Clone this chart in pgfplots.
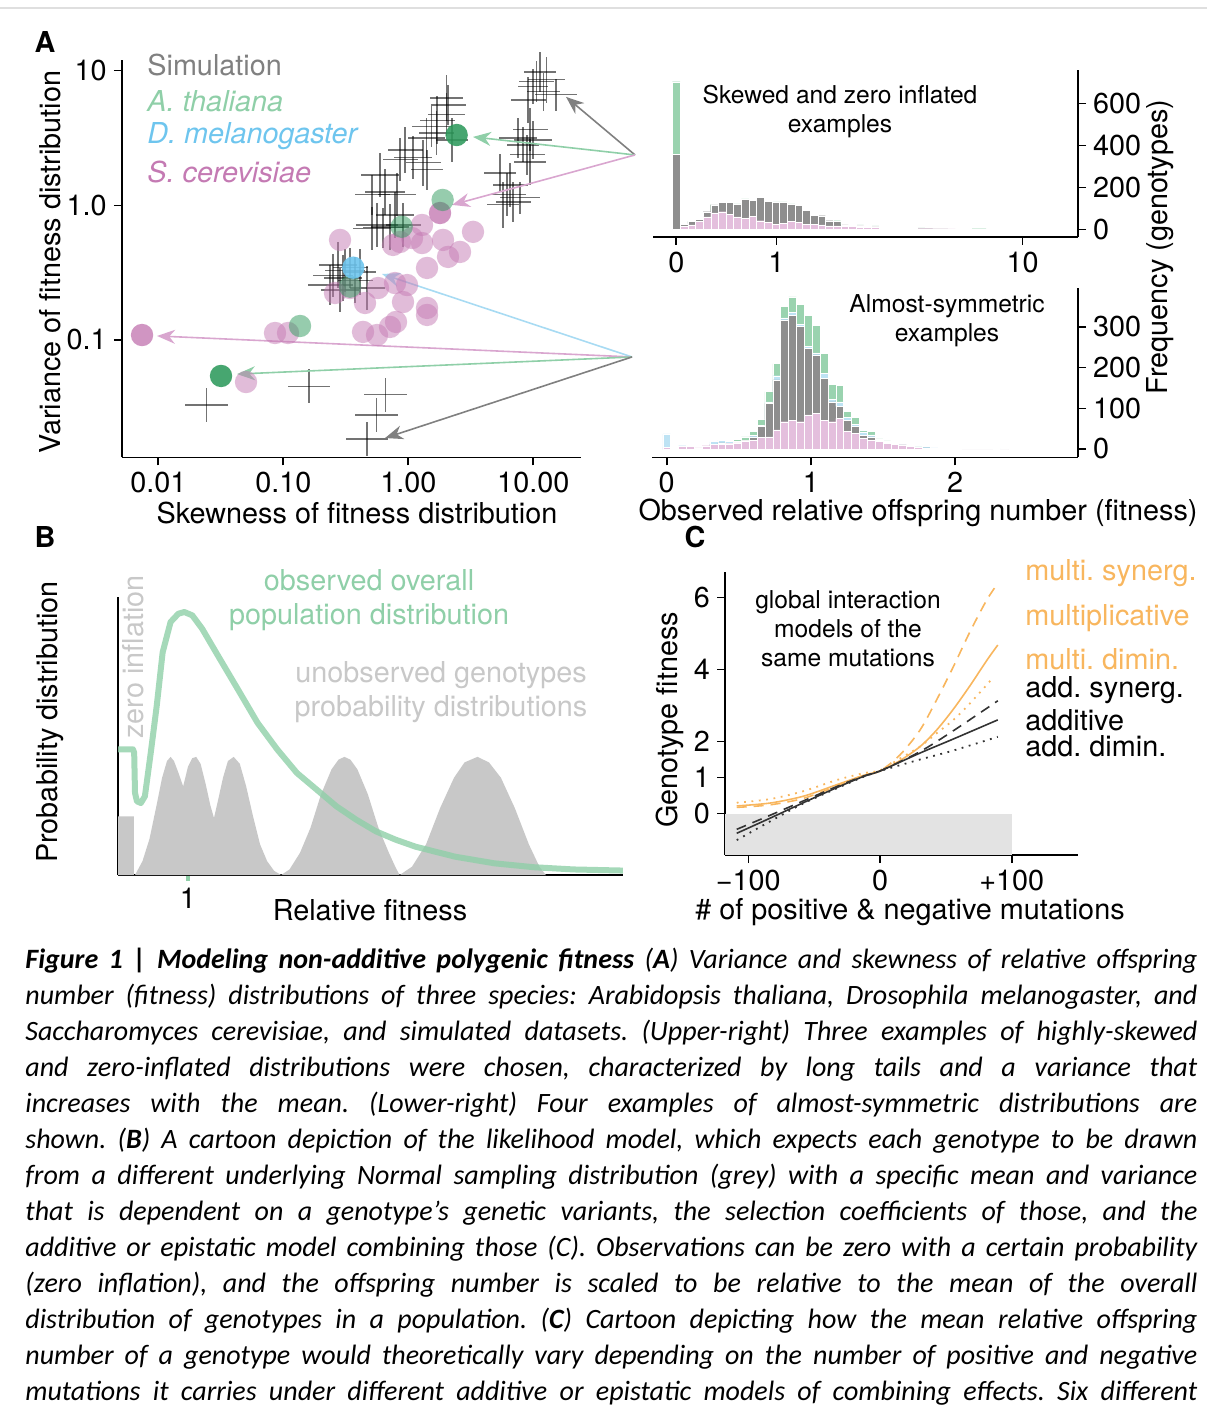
\documentclass[border=0pt]{standalone}
\usepackage{fontspec}
\setmainfont{TeX Gyre Heros}
\newfontfamily\capfont{Carlito}
\usepackage{pgfplots}
\usepackage{pgfplotstable}
\pgfplotsset{compat=1.18}
\usetikzlibrary{arrows.meta}

\definecolor{tgreen}{HTML}{2E9A5C}
\definecolor{lgreen}{HTML}{8FCFA8}
\definecolor{dblue}{HTML}{6EC5EE}
\definecolor{pinkc}{HTML}{C47AB3}
\definecolor{apink}{HTML}{D9A6CF}
\definecolor{ablue}{HTML}{A8DBF3}
\definecolor{hgreen}{HTML}{9AD3AF}
\definecolor{hblue}{HTML}{BEE3F4}
\definecolor{hgray}{HTML}{8E8E8E}
\definecolor{hpink}{HTML}{E4BFDD}
\definecolor{bgray}{HTML}{C8C8C8}
\definecolor{orangec}{HTML}{F8B65E}
\definecolor{shade}{HTML}{E3E3E3}

\newcommand\ffont{\fontsize{14.4pt}{17pt}\selectfont}
\newcommand\sfont{\fontsize{12.3pt}{14.5pt}\selectfont}
\newcommand\cfont{\capfont\itshape\fontsize{14pt}{18pt}\selectfont}

\pgfplotsset{
  myax/.style={scale only axis, clip=false,
    axis line style={line width=0.8pt},
    major tick style={line width=0.8pt, black},
    major tick length=4pt,
    tick label style={font=\ffont},
    /pgf/number format/assume math mode=true},
  noarrows/.style={
    x axis line style={-}, y axis line style={-},
    every outer x axis line/.append style={-},
    every outer y axis line/.append style={-},
    every inner x axis line/.append style={-},
    every inner y axis line/.append style={-}},
  dot/.style={only marks, mark=*, mark size=5.6pt, draw=none,
    mark options={draw opacity=0, fill=#1}},
}

% histograms: bin centre, heights per species
\pgfplotstableread{
t g k p
0 703 358 0
0.023 27 25 13
0.046 39 37 21
0.069 51 49 37
0.092 86 84 60
0.115 119 116 79
0.138 132 127 84
0.161 133 130 73
0.184 121 119 60
0.207 145 143 52
0.230 139 137 63
0.253 154 152 41
0.276 138 135 32
0.299 131 129 25
0.322 131 129 29
0.345 121 119 37
0.368 115 113 32
0.391 94 92 25
0.414 70 68 25
0.437 67 65 21
0.460 44 41 17
0.483 41 37 16
0.506 25 21 13
0.529 24 19 13
0.552 21 16 10
0.575 19 13 9
0.598 17 12 8
0.621 13 9 6
0.644 14 8 6
0.667 10 6 5
0.690 9 5 4
0.713 8 4 4
0.736 7 3 3
0.759 6 3 3
0.782 6 2 2
0.805 5 2 2
0.828 5 1 2
0.851 4 1 1
0.874 4 1 1
0.897 3 0 1
0.920 3 0 1
}\upperhist

\pgfplotstableread{
x g b k p
0 0 37 0 4
0.0545 0 2 0 1
0.109 0 8 0 6
0.1635 0 9 0 6
0.218 0 4 0 3
0.2725 0 9 0 8
0.327 0 18 12 11
0.3815 0 22 15 12
0.436 0 18 14 13
0.4905 24 19 17 15
0.545 30 22 20 18
0.5995 43 33 30 22
0.654 73 58 55 28
0.7085 141 116 112 30
0.763 210 180 170 47
0.8175 350 322 317 67
0.872 374 336 329 71
0.9265 356 306 301 67
0.981 328 253 247 84
1.0355 303 236 231 88
1.09 235 186 174 71
1.1445 159 122 116 67
1.199 157 116 104 75
1.2535 93 77 71 43
1.308 77 60 55 38
1.3625 45 42 34 26
1.417 43 35 30 22
1.4715 25 24 22 18
1.526 20 18 16 14
1.5805 16 14 12 12
1.635 11 10 10 10
1.6895 7 7 6 6
1.744 5 5 4 4
1.7985 3 6 3 2
1.853 2 3 2 2
1.9075 2 2 1 1
1.962 1 2 1 1
2.0165 1 1 0 1
2.071 0 1 0 0
2.1255 1 2 0 0
2.18 0 1 0 0
2.2345 0 1 0 0
2.3435 0 1 0 0
}\lowerhist

% simulation crosses (log10 skewness, log10 variance, arm half lengths)
\pgfplotstableread{
x y ex ey
1.027 0.918 0.14 0.15
1.107 0.931 0.15 0.17
1.080 0.844 0.13 0.14
1.182 0.820 0.17 0.12
0.998 0.881 0.12 0.13
1.054 0.990 0.13 0.15
0.958 0.782 0.14 0.17
0.974 0.560 0.14 0.16
0.998 0.485 0.15 0.14
0.918 0.448 0.13 0.13
0.878 0.500 0.15 0.15
0.950 0.374 0.14 0.15
0.974 0.322 0.13 0.17
0.734 0.240 0.13 0.14
0.814 0.151 0.14 0.16
0.790 0.077 0.15 0.16
0.838 0.025 0.14 0.15
0.758 0.003 0.13 0.17
0.894 0.055 0.16 0.12
0.307 0.797 0.13 0.17
0.318 0.745 0.14 0.15
0.307 0.671 0.15 0.16
0.230 0.633 0.14 0.18
0.350 0.485 0.13 0.16
0.187 0.584 0.16 0.15
0.227 0.537 0.14 0.16
0.147 0.500 0.15 0.15
0.038 0.352 0.15 0.16
-0.026 0.411 0.14 0.17
0.118 0.315 0.14 0.17
0.150 0.263 0.13 0.15
-0.066 0.337 0.14 0.16
-0.226 0.225 0.15 0.16
-0.186 0.099 0.16 0.17
-0.090 0.077 0.15 0.16
-0.290 0.077 0.14 0.15
-0.106 -0.072 0.15 0.17
-0.250 -0.146 0.17 0.16
-0.146 -0.161 0.15 0.17
-0.042 -0.146 0.14 0.16
-0.202 -0.168 0.16 0.15
-0.290 -0.169 0.15 0.16
-0.562 -0.443 0.15 0.17
-0.602 -0.518 0.16 0.16
-0.466 -0.465 0.14 0.15
-0.626 -0.592 0.18 0.15
-0.386 -0.495 0.13 0.17
-0.330 -0.614 0.14 0.16
-0.522 -0.540 0.15 0.17
-0.506 -0.481 0.16 0.16
-0.426 -0.555 0.14 0.17
-0.546 -0.629 0.15 0.16
-1.613 -1.483 0.17 0.125
-0.794 -1.342 0.17 0.125
-0.181 -1.408 0.17 0.125
-0.253 -1.557 0.17 0.125
-0.330 -1.735 0.17 0.125
}\sims

\pgfplotstableread{
x y
-1.066 -0.948
-0.962 -0.948
-1.298 -1.312
-0.546 -0.257
-0.586 -0.651
-0.346 -0.725
-0.242 -0.614
-0.106 -0.577
-0.010 -0.592
-0.042 -0.718
0.150 -0.465
0.150 -0.762
0.150 -0.814
-0.362 -0.940
-0.250 -0.963
-0.146 -0.903
-0.098 -0.866
-0.066 -0.272
0.030 -0.243
0.110 -0.280
0.110 -0.146
0.278 -0.257
0.414 -0.346
0.318 -0.383
0.518 -0.197
-0.122 -0.294
-0.466 -0.614
}\pinks

\begin{document}
\frenchspacing
\begin{tikzpicture}
\useasboundingbox (0,0) rectangle (603.5pt,-706pt);
\draw[gray!25, line width=0.6pt] (0,-4pt) -- (603.5pt,-4pt);

%% ---------- A: scatter ----------
\begin{axis}[myax, at={(60.9pt,-228.65pt)}, anchor=south west,
  width=229.6pt, height=198.65pt,
  xmin=-2.292, xmax=1.382, ymin=-1.871, ymax=1.079,
  axis x line=bottom, axis y line=left, tick align=outside, noarrows,
  xtick={-2,-1,0,1}, xticklabels={0.01,0.10,1.00,10.00},
  ytick={-1,0,1}, yticklabels={0.1,1.0,10}]
\addplot[dot={pinkc}, fill opacity=0.5] table[x=x,y=y] {\pinks};
\addplot[dot={pinkc}, fill opacity=0.8] coordinates {(-2.130,-0.963) (0.254,-0.057)};
\addplot[dot={tgreen}, fill opacity=0.5] coordinates {(0.275,0.040) (-0.053,-0.159) (-0.466,-0.604) (-0.866,-0.896)};
\addplot[draw=none, mark=none,
  error bars/.cd, x dir=both, x explicit, y dir=both, y explicit, error mark=none,
  error bar style={draw=black, draw opacity=0.55, line width=0.55pt}]
  table[x=x, y=y, x error=ex, y error=ey] {\sims};
\addplot[dot={tgreen}, fill opacity=0.88] coordinates {(0.387,0.522) (-1.498,-1.267)};
\addplot[dot={dblue}, fill opacity=0.9] coordinates {(-0.440,-0.463)};
% arrows from the histogram panels
\draw[-{Stealth[length=9pt,width=7pt]}, line width=0.8pt, gray] (axis cs:1.814,0.374) -- (axis cs:1.262,0.805);
\draw[-{Stealth[length=9pt,width=7pt]}, line width=0.8pt, lgreen] (axis cs:1.814,0.374) -- (axis cs:0.518,0.508);
\draw[-{Stealth[length=9pt,width=7pt]}, line width=0.8pt, apink] (axis cs:1.814,0.374) -- (axis cs:0.350,0.003);
\draw[-{Stealth[length=9pt,width=7pt]}, line width=0.8pt, ablue] (axis cs:1.790,-1.126) -- (axis cs:-0.210,-0.510);
\draw[-{Stealth[length=9pt,width=7pt]}, line width=0.8pt, apink] (axis cs:1.790,-1.126) -- (axis cs:-2.010,-0.970);
\draw[-{Stealth[length=9pt,width=7pt]}, line width=0.8pt, lgreen] (axis cs:1.790,-1.126) -- (axis cs:-1.370,-1.253);
\draw[-{Stealth[length=9pt,width=7pt]}, line width=0.8pt, gray] (axis cs:1.790,-1.126) -- (axis cs:-0.186,-1.728);
\end{axis}

%% ---------- A: upper histogram ----------
\begin{axis}[myax, at={(326.5pt,-118.35pt)}, anchor=south west,
  width=212.5pt, height=83.35pt,
  xmin=-0.070, xmax=1.208, ymin=-35, ymax=759,
  axis x line=bottom, axis y line=right, tick align=outside, noarrows,
  xtick={0,0.30103,1.04139}, xticklabels={0,1,10},
  ytick={0,200,400,600}]
\addplot[ybar, bar width=0.023, fill=hgreen, draw=white, line width=0.2pt] table[x=t,y=g] {\upperhist};
\addplot[ybar, bar width=0.023, fill=hgray, draw=white, line width=0.2pt] table[x=t,y=k] {\upperhist};
\addplot[ybar, bar width=0.023, fill=hpink, draw=white, line width=0.2pt] table[x=t,y=p] {\upperhist};
\end{axis}

%% ---------- A: lower histogram ----------
\begin{axis}[myax, at={(326pt,-228.65pt)}, anchor=south west,
  width=213pt, height=84.65pt,
  xmin=-0.102, xmax=2.852, ymin=-20.4, ymax=395.6,
  axis x line=bottom, axis y line=right, tick align=outside, noarrows,
  xtick={0,1,2}, ytick={0,100,200,300}]
\addplot[ybar, bar width=0.0545, fill=hgreen, draw=white, line width=0.2pt] table[x=x,y=g] {\lowerhist};
\addplot[ybar, bar width=0.0545, fill=hblue, draw=white, line width=0.2pt] table[x=x,y=b] {\lowerhist};
\addplot[ybar, bar width=0.0545, fill=hgray, draw=white, line width=0.2pt] table[x=x,y=k] {\lowerhist};
\addplot[ybar, bar width=0.0545, fill=hpink, draw=white, line width=0.2pt] table[x=x,y=p] {\lowerhist};
\end{axis}

%% ---------- B ----------
\begin{axis}[myax, at={(59pt,-437.5pt)}, anchor=south west,
  width=252.5pt, height=139pt,
  xmin=0, xmax=7.214, ymin=0, ymax=1,
  axis x line=bottom, axis y line=left, tick align=outside, noarrows,
  xtick={1}, ytick=\empty,
  xtick style={draw=lgreen, line width=2pt}, major tick length=3pt]
\addplot[fill=bgray, draw=none] coordinates {
(0,0) (0,0.211) (0.226,0.211) (0.226,0) (0.243,0) (0.35,0.05) (0.45,0.13) (0.55,0.25)
(0.63,0.35) (0.70,0.41) (0.751,0.425) (0.80,0.41) (0.86,0.37) (0.931,0.319) (1.0,0.39)
(1.06,0.42) (1.117,0.425) (1.18,0.40) (1.25,0.33) (1.32,0.25) (1.371,0.205) (1.43,0.27)
(1.50,0.35) (1.57,0.41) (1.653,0.425) (1.74,0.40) (1.83,0.32) (1.93,0.21) (2.03,0.11)
(2.13,0.05) (2.23,0.015) (2.331,0) (2.45,0.02) (2.6,0.08) (2.75,0.17) (2.9,0.29)
(3.05,0.38) (3.15,0.415) (3.234,0.425) (3.32,0.415) (3.42,0.38) (3.57,0.29) (3.72,0.17)
(3.87,0.08) (3.97,0.025) (4.024,0) (4.2,0.03) (4.4,0.11) (4.6,0.24) (4.8,0.35)
(4.95,0.405) (5.135,0.425) (5.3,0.405) (5.47,0.35) (5.67,0.24) (5.87,0.11) (6.02,0.03) (6.112,0)};
\addplot[lgreen, line width=3pt, opacity=0.8, line join=round] coordinates {
(0.0,0.452) (0.214,0.452) (0.231,0.440) (0.243,0.295) (0.271,0.265) (0.327,0.259)
(0.384,0.283) (0.468,0.440) (0.553,0.608) (0.638,0.801) (0.751,0.910) (0.863,0.940)
(0.948,0.946) (1.061,0.934) (1.202,0.886) (1.428,0.789) (1.710,0.669) (1.992,0.548)
(2.274,0.452) (2.556,0.367) (2.839,0.307) (3.121,0.247) (3.403,0.199) (3.685,0.157)
(3.967,0.127) (4.249,0.102) (4.814,0.066) (5.378,0.042) (5.942,0.028) (6.507,0.020) (7.212,0.016)};
\end{axis}

%% ---------- C ----------
\begin{axis}[myax, at={(362.5pt,-427.5pt)}, anchor=south west,
  width=176.5pt, height=141.5pt,
  xmin=-117.7, xmax=150.3, ymin=-1.153, ymax=6.708,
  axis x line=bottom, axis y line=left, tick align=outside, noarrows,
  xtick={-100,0,100}, xticklabels={−100,0,+100},
  ytick={0,1,2,4,6}]
\addplot[fill=shade, draw=none] coordinates {(-117.7,-1.153) (-117.7,0) (100,0) (100,-1.153)};
\addplot[orangec, line width=0.8pt, smooth] coordinates {(-108.8,0.21) (-83.5,0.29) (-58.2,0.48) (-32.8,0.80) (-12.5,1.06) (0,1.18) (15.2,1.47) (30.4,1.86) (43.0,2.32) (55.7,2.90) (68.3,3.55) (81.0,4.25) (89.4,4.68)};
\addplot[orangec, line width=0.8pt, dash pattern=on 5pt off 3.5pt, smooth] coordinates {(-108.8,0.17) (-83.5,0.24) (-58.2,0.42) (-32.8,0.76) (-12.5,1.06) (0,1.18) (15.2,1.63) (30.4,2.32) (43.0,3.16) (55.7,4.08) (68.3,5.05) (81.0,5.93) (89.4,6.39)};
\addplot[orangec, line width=0.9pt, dash pattern=on 0.9pt off 2.8pt, smooth] coordinates {(-108.8,0.30) (-83.5,0.40) (-58.2,0.62) (-32.8,0.93) (-12.5,1.12) (0,1.20) (15.2,1.53) (30.4,1.86) (43.0,2.23) (55.7,2.60) (68.3,3.06) (84.3,3.71)};
\addplot[black!80, line width=0.8pt, smooth] coordinates {(-108.8,-0.55) (-83.5,-0.13) (-58.2,0.30) (-32.8,0.72) (-12.5,1.03) (0,1.18) (30.4,1.68) (55.7,2.07) (89.4,2.60)};
\addplot[black!80, line width=0.8pt, dash pattern=on 5pt off 3.5pt, smooth] coordinates {(-108.8,-0.44) (-83.5,-0.05) (-58.2,0.35) (-32.8,0.75) (-12.5,1.04) (0,1.18) (30.4,1.72) (55.7,2.30) (89.4,3.13)};
\addplot[black!80, line width=0.9pt, dash pattern=on 0.9pt off 2.8pt, smooth] coordinates {(-108.8,-0.74) (-83.5,-0.22) (-58.2,0.28) (-32.8,0.70) (-12.5,1.02) (0,1.18) (30.4,1.50) (55.7,1.75) (89.4,2.13)};
\end{axis}

%% ---------- texts ----------
\begin{scope}[every node/.style={inner sep=0pt, font=\ffont}]
\node[font=\ffont\bfseries] at (22.5pt,-21pt) {A};
\node[font=\ffont\bfseries] at (22.5pt,-268.5pt) {B};
\node[font=\ffont\bfseries] at (347.5pt,-268.5pt) {C};
\node[anchor=west, text=gray] at (73.5pt,-32.5pt) {Simulation};
\node[anchor=west, text=lgreen] at (73.5pt,-50.5pt) {\itshape A. thaliana};
\node[anchor=west, text=dblue] at (73.5pt,-68pt) {\itshape D. melanogaster};
\node[anchor=west, text=pinkc] at (73.5pt,-86pt) {\itshape S. cerevisiae};
\node[rotate=90] at (25pt,-131pt) {Variance of fitness distribution};
\node at (178.5pt,-256.5pt) {Skewness of fitness distribution};
\node[font=\sfont, align=center] at (420pt,-55.5pt) {Skewed and zero inflated\\examples};
\node[font=\sfont, align=center] at (473.5pt,-160.5pt) {Almost-symmetric\\examples};
\node[rotate=90] at (580pt,-123.5pt) {Frequency (genotypes)};
\node at (459pt,-256.5pt) {Observed relative offspring number (fitness)};
\node[rotate=90] at (25pt,-361pt) {Probability distribution};
\node[rotate=90, text=bgray] at (66.5pt,-328.5pt) {zero inflation};
\node[text=lgreen, align=center] at (184.5pt,-300pt) {observed overall\\population distribution};
\node[text=bgray, align=center] at (220.5pt,-346pt) {unobserved genotypes\\probability distributions};
\node at (185pt,-455pt) {Relative fitness};
\node[font=\sfont, align=center] at (424pt,-314.5pt) {global interaction\\models of the\\same mutations};
\node[rotate=90] at (335pt,-360pt) {Genotype fitness};
\node at (455pt,-456pt) {\# of positive \& negative mutations};
\node[anchor=west, text=orangec] at (512.5pt,-286.5pt) {multi. synerg.};
\node[anchor=west, text=orangec] at (512.5pt,-309pt) {multiplicative};
\node[anchor=west, text=orangec] at (512.5pt,-329.5pt) {multi. dimin.};
\node[anchor=west] at (512.5pt,-345pt) {add. synerg.};
\node[anchor=west] at (512.5pt,-360pt) {additive};
\node[anchor=west] at (512.5pt,-373pt) {add. dimin.};
\end{scope}

%% ---------- caption ----------
\begin{scope}[every node/.style={inner sep=0pt, anchor=base west, font=\cfont}]
\node at (12.5pt,-484pt) {\makebox[586pt][s]{\bfseries Figure 1 | Modeling non-additive polygenic fitness \mdseries (\textbf{A}) Variance and skewness of relative offspring}};
\node at (12.5pt,-502pt) {\makebox[586pt][s]{number (fitness) distributions of three species: Arabidopsis thaliana, Drosophila melanogaster, and}};
\node at (12.5pt,-520pt) {\makebox[586pt][s]{Saccharomyces cerevisiae, and simulated datasets. (Upper-right) Three examples of highly-skewed}};
\node at (12.5pt,-538pt) {\makebox[586pt][s]{and zero-inflated distributions were chosen, characterized by long tails and a variance that}};
\node at (12.5pt,-556pt) {\makebox[586pt][s]{increases with the mean. (Lower-right) Four examples of almost-symmetric distributions are}};
\node at (12.5pt,-574pt) {\makebox[586pt][s]{shown. (\textbf{B}) A cartoon depiction of the likelihood model, which expects each genotype to be drawn}};
\node at (12.5pt,-592pt) {\makebox[586pt][s]{from a different underlying Normal sampling distribution (grey) with a specific mean and variance}};
\node at (12.5pt,-610pt) {\makebox[586pt][s]{that is dependent on a genotype’s genetic variants, the selection coefficients of those, and the}};
\node at (12.5pt,-628pt) {\makebox[586pt][s]{additive or epistatic model combining those (C). Observations can be zero with a certain probability}};
\node at (12.5pt,-646pt) {\makebox[586pt][s]{(zero inflation), and the offspring number is scaled to be relative to the mean of the overall}};
\node at (12.5pt,-664pt) {\makebox[586pt][s]{distribution of genotypes in a population. (\textbf{C}) Cartoon depicting how the mean relative offspring}};
\node at (12.5pt,-682pt) {\makebox[586pt][s]{number of a genotype would theoretically vary depending on the number of positive and negative}};
\node at (12.5pt,-700pt) {\makebox[586pt][s]{mutations it carries under different additive or epistatic models of combining effects. Six different}};
\end{scope}
\end{tikzpicture}
\end{document}
